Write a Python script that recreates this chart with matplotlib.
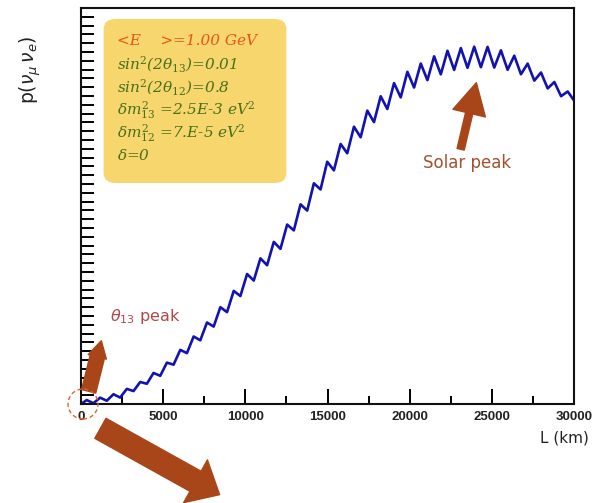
import matplotlib
matplotlib.use("Agg")
from matplotlib import pyplot as plt
from matplotlib.patches import FancyBboxPatch, Ellipse
import numpy as np

# curve: alternating peaks / troughs of the fast wiggle
L_km = [0, 350, 756, 1163, 1569, 1976, 2382, 2789, 3195, 3602, 4008, 4415, 4821,
        5228, 5634, 6041, 6447, 6854, 7260, 7667, 8073, 8480, 8886, 9293, 9699,
        10106, 10512, 10919, 11325, 11732, 12138, 12545, 12951, 13358, 13764,
        14171, 14577, 14984, 15390, 15797, 16203, 16610, 17016, 17423, 17829,
        18236, 18642, 19049, 19455, 19862, 20268, 20675, 21081, 21488, 21894,
        22301, 22707, 23114, 23520, 23927, 24333, 24740, 25146, 25553, 25959,
        26366, 26772, 27179, 27585, 27992, 28398, 28805, 29211, 29618, 30000]
prob = [0.0, 0.0045, 0.0009, 0.0072, 0.0037, 0.0111, 0.0073, 0.0172, 0.0147,
        0.025, 0.023, 0.0353, 0.032, 0.047, 0.0447, 0.0615, 0.0578, 0.0767,
        0.0724, 0.0926, 0.088, 0.110, 0.1044, 0.1285, 0.1227, 0.1477, 0.1403,
        0.1655, 0.1577, 0.1842, 0.1763, 0.2039, 0.1973, 0.2269, 0.2198, 0.2508,
        0.2438, 0.2753, 0.2655, 0.2955, 0.2849, 0.3151, 0.3031, 0.3334, 0.3203,
        0.3497, 0.3352, 0.3647, 0.3484, 0.3775, 0.3596, 0.3869, 0.368, 0.3951,
        0.3746, 0.4014, 0.3796, 0.4044, 0.382, 0.406, 0.3827, 0.4058, 0.3823,
        0.4019, 0.3798, 0.3958, 0.3747, 0.3868, 0.3675, 0.3767, 0.3586, 0.3659,
        0.3498, 0.3551, 0.345]

xticks = [0, 5000, 10000, 15000, 20000, 25000, 30000]
xtick_labels = ["0", "5000", "10000", "15000", "20000", "25000", "30000"]

box_lines = [r"<E    >=1.00 GeV",
             r"sin$^2$(2$\theta_{13}$)=0.01",
             r"sin$^2$(2$\theta_{12}$)=0.8",
             r"$\delta m^2_{13}$ =2.5E-3 eV$^2$",
             r"$\delta m^2_{12}$ =7.E-5 eV$^2$",
             r"$\delta$=0"]
box_colors = ["#E8531C", "#46701A", "#46701A", "#46701A", "#46701A", "#46701A"]

W, H = 592, 503
fig = plt.figure(figsize=(W/100, H/100), dpi=100)
ax = fig.add_axes([81/W, 1-404/H, (574-81)/W, (404-8)/H])

ax.plot(L_km, prob, color="#1212B0", lw=1.9, solid_joinstyle="round")
ax.set_xlim(0, 30000)
ax.set_ylim(0, 0.45)

ax.set_xticks(xticks)
ax.set_xticklabels(xtick_labels, fontsize=9.5, family="Liberation Sans",
                   weight="bold", color="#222222")
ax.set_xticks(np.arange(2500, 30000, 5000), minor=True)
ax.set_yticks(np.arange(0, 0.451, 0.05))
ax.set_yticks(np.arange(0, 0.451, 0.01), minor=True)
ax.set_yticklabels([])
ax.tick_params(axis="x", which="major", direction="in", length=11, width=1.4, pad=5)
ax.tick_params(axis="x", which="minor", direction="in", length=6, width=1.4)
ax.tick_params(axis="y", which="both", direction="in", length=9, width=1.4)
ax.tick_params(top=False, right=False)
for s in ax.spines.values():
    s.set_linewidth(1.5)
    s.set_color("#111111")

# axis titles
fig.text(589/W, 1-438/H, "L (km)", ha="right", va="center", fontsize=11,
         family="DejaVu Sans", color="#222222")
fig.text(30/W, 1-70/H, r"p($\nu_{\mu}\,\nu_{e}$)", rotation=90, ha="center",
         va="center", fontsize=13.5, color="#222222")

# parameter box
box = FancyBboxPatch((106/W, 1-181/H), 178/W, 160/H,
                     boxstyle="round,pad=0.004,rounding_size=0.02",
                     transform=fig.transFigure, facecolor="#F8D66E",
                     edgecolor="none")
fig.add_artist(box)
ys = [41, 64, 87, 110, 133, 155]
for txt, c, yy in zip(box_lines, box_colors, ys):
    fig.text(117/W, 1-yy/H, txt, color=c, fontsize=11, style="italic",
             family="DejaVu Serif", math_fontfamily="dejavuserif", va="center")

# annotations
brown = "#A8461A"
fig.text(467/W, 1-163/H, "Solar peak", color="#A0522D", fontsize=12,
         ha="center", va="center", family="DejaVu Sans")
fig.text(145/W, 1-316/H, r"$\theta_{13}$ peak", color="#B04848", fontsize=11.5,
         ha="center", va="center", family="DejaVu Sans")

ax.annotate("", xy=(477, H-80), xytext=(460, H-152), xycoords="figure pixels",
            textcoords="figure pixels", annotation_clip=False,
            arrowprops=dict(arrowstyle="simple,head_length=1.5,head_width=1.6,tail_width=0.35",
                            color=brown, mutation_scale=15))
ax.annotate("", xy=(102, H-338), xytext=(88, H-394), xycoords="figure pixels",
            textcoords="figure pixels", annotation_clip=False,
            arrowprops=dict(arrowstyle="simple,head_length=0.8,head_width=0.9,tail_width=0.7",
                            color=brown, mutation_scale=15))
ax.annotate("", xy=(222, H-496), xytext=(98, H-427), xycoords="figure pixels",
            textcoords="figure pixels", annotation_clip=False,
            arrowprops=dict(arrowstyle="simple,head_length=0.9,head_width=1.6,tail_width=0.75",
                            color=brown, mutation_scale=22))

circ = Ellipse((83/W, 1-404/H), 30/W, 30/H, transform=fig.transFigure,
               fill=False, edgecolor="#E0642C", lw=1.0, ls=(0, (3, 2)))
fig.add_artist(circ)

fig.savefig("out.png", dpi=100)
